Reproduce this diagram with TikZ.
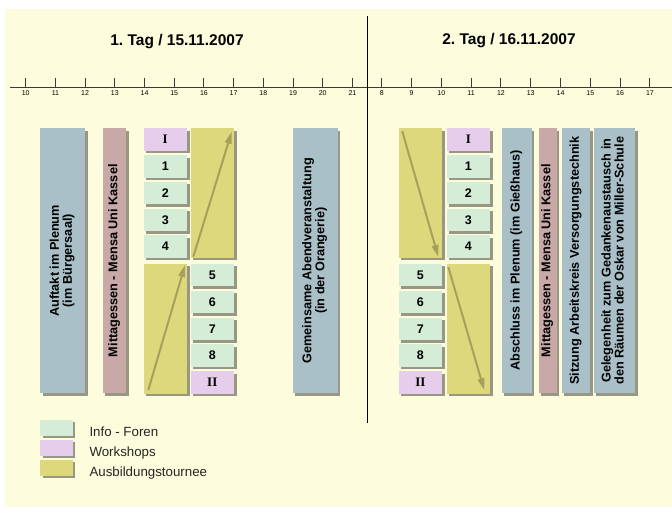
\documentclass[tikz,border=0pt]{standalone}
\usepackage{fontspec}
\usepackage{graphicx}
\setmainfont{Liberation Sans}
\newfontfamily\romanf{Liberation Serif}
\usetikzlibrary{shadows,arrows.meta}
\frenchspacing
\definecolor{cream}{RGB}{253,252,220}
\definecolor{bluegray}{RGB}{169,192,200}
\definecolor{pinkbox}{RGB}{201,169,168}
\definecolor{greenbox}{RGB}{213,236,214}
\definecolor{lilac}{RGB}{230,205,236}
\definecolor{yellowbox}{RGB}{222,216,124}
\definecolor{arrowc}{RGB}{166,160,92}
\definecolor{axisc}{RGB}{60,60,55}
\newcommand{\vlabel}[1]{\rotatebox{90}{\begin{tabular}{@{}c@{}}#1\end{tabular}}}
\newcommand{\numfnt}{\bfseries\fontsize{12.5}{13}\selectfont}
\newcommand{\romfnt}{\romanf\bfseries\fontsize{13}{13}\selectfont}
\tikzset{
  shade/.style={drop shadow={shadow xshift=2.5pt,shadow yshift=-2.5pt,fill=black,opacity=.4}},
  card/.style={shade,inner sep=0pt,anchor=north west},
  bigbox/.style={card,minimum height=265,font=\bfseries\fontsize{12.7}{12.5}\selectfont},
  smallbox/.style={card,minimum width=43.5,minimum height=22.5},
  infobox/.style={smallbox,fill=greenbox,font=\numfnt},
  workbox/.style={smallbox,fill=lilac,font=\romfnt},
  tourbox/.style={card,fill=yellowbox,minimum width=43.5,minimum height=129.7},
  tourarrow/.style={draw=arrowc,line width=2pt,-{Triangle[length=12pt,width=6.5pt]}},
  daytitle/.style={font=\bfseries\fontsize{15.5}{16}\selectfont},
  ticklabel/.style={font=\fontsize{7}{7}\selectfont,inner sep=0pt},
  legbox/.style={card,minimum width=32.7,minimum height=16},
  legtext/.style={anchor=base west,inner sep=0pt,font=\fontsize{13.3}{14}\selectfont,text=black!85}
}
\begin{document}
\begin{tikzpicture}[x=1pt,y=-1pt]
\useasboundingbox (0,0) rectangle (672,507);
\fill[white] (0,0) rectangle (672,507);
\fill[cream] (5,9) rectangle (672,507);

% titles
\node[daytitle] (tag1) at (177,42) {1. Tag / 15.11.2007};
\node[daytitle] (tag2) at (509,41) {2. Tag / 16.11.2007};

% time axis
\draw[axisc,line width=1pt] (10,87) -- (672,87);
\foreach \h in {10,...,21}{
  \draw[axisc,line width=0.9pt] ({25.7+29.7*(\h-10)},78) -- ({25.7+29.7*(\h-10)},87);
  \node[ticklabel] (ta\h) at ({25.7+29.7*(\h-10)},93) {\h};
}
\foreach \h in {8,...,17}{
  \draw[axisc,line width=0.9pt] ({381.7+29.8*(\h-8)},78) -- ({381.7+29.8*(\h-8)},87);
  \node[ticklabel] (tb\h) at ({381.7+29.8*(\h-8)},93) {\h};
}
\draw[black,line width=0.9pt] (367,16) -- (367,423);

% ---- day 1
\node[bigbox,fill=bluegray,minimum width=45] (auftakt) at (40,128) {\vlabel{Auftakt im Plenum\\(im Bürgersaal)}};
\node[bigbox,fill=pinkbox,minimum width=23.5] (mittag1) at (102.7,128) {\vlabel{Mittagessen - Mensa Uni Kassel}};
\node[bigbox,fill=bluegray,minimum width=44.6] (abend) at (292.7,128) {\vlabel{Gemeinsame Abendveranstaltung\\(in der Orangerie)}};

\node[workbox] (aI) at (143.3,128) {I};
\node[infobox] (a1) at (143.3,154.8) {1};
\node[infobox] (a2) at (143.3,181.6) {2};
\node[infobox] (a3) at (143.3,208.4) {3};
\node[infobox] (a4) at (143.3,235.2) {4};
\node[tourbox] (atour1) at (143.3,263.7) {};
\node[tourbox] (atour2) at (190.3,128) {};
\node[infobox] (a5) at (190.3,263.7) {5};
\node[infobox] (a6) at (190.3,290.5) {6};
\node[infobox] (a7) at (190.3,317.3) {7};
\node[infobox] (a8) at (190.3,344.1) {8};
\node[workbox] (aII) at (190.3,370.9) {II};

% ---- day 2
\node[tourbox] (btour1) at (398.5,128) {};
\node[infobox] (b5) at (398.5,263.7) {5};
\node[infobox] (b6) at (398.5,290.5) {6};
\node[infobox] (b7) at (398.5,317.3) {7};
\node[infobox] (b8) at (398.5,344.1) {8};
\node[workbox] (bII) at (398.5,370.9) {II};
\node[workbox] (bI) at (446.5,128) {I};
\node[infobox] (b1) at (446.5,154.8) {1};
\node[infobox] (b2) at (446.5,181.6) {2};
\node[infobox] (b3) at (446.5,208.4) {3};
\node[infobox] (b4) at (446.5,235.2) {4};
\node[tourbox] (btour2) at (446.5,263.7) {};

\node[bigbox,fill=bluegray,minimum width=30] (abschluss) at (501.7,128) {\vlabel{Abschluss im Plenum (im Gießhaus)}};
\node[bigbox,fill=pinkbox,minimum width=18.4] (mittag2) at (538.3,128) {\vlabel{Mittagessen - Mensa Uni Kassel}};
\node[bigbox,fill=bluegray,minimum width=28.3] (sitzung) at (561.7,128) {\vlabel{Sitzung Arbeitskreis Versorgungstechnik}};
\node[bigbox,fill=bluegray,minimum width=41.7] (gelegen) at (593.3,128) {\vlabel{Gelegenheit zum Gedankenaustausch in\\den Räumen der Oskar von Miller-Schule}};

% tour arrows
\coordinate (p1s) at (148.3,390);
\coordinate (p1e) at (185,265);
\coordinate (p2s) at (193.3,256.7);
\coordinate (p2e) at (231.7,131.7);
\coordinate (p3s) at (402.3,131.3);
\coordinate (p3e) at (438.3,257);
\coordinate (p4s) at (448.3,267);
\coordinate (p4e) at (484.3,390.3);
\draw[tourarrow] (p1s) -- (p1e);
\draw[tourarrow] (p2s) -- (p2e);
\draw[tourarrow] (p3s) -- (p3e);
\draw[tourarrow] (p4s) -- (p4e);

% legend
\node[legbox,fill=greenbox] (lg1) at (40,419.3) {};
\node[legbox,fill=lilac] (lg2) at (40,439.3) {};
\node[legbox,fill=yellowbox] (lg3) at (40,459.3) {};
\node[legtext] (lt1) at (89.3,436) {Info - Foren};
\node[legtext] (lt2) at (89.3,456) {Workshops};
\node[legtext] (lt3) at (89.3,476) {Ausbildungstournee};
\end{tikzpicture}
\end{document}
